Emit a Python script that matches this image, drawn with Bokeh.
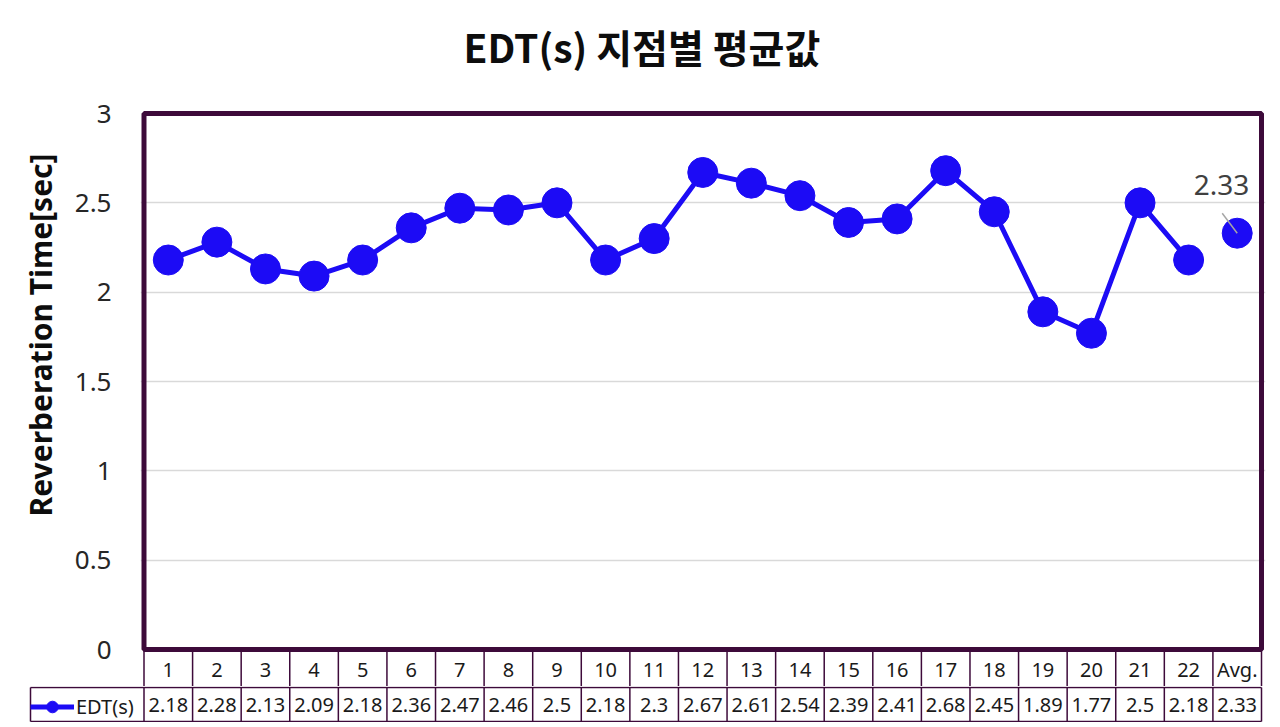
from bokeh.plotting import figure
from bokeh.models import (Range1d, FixedTicker, NumeralTickFormatter, ColumnDataSource,
                          Legend, LegendItem, Title)
from bokeh.embed import file_html
from bokeh.resources import INLINE
from bokeh.core.properties import value

# ---------------- data ----------------
title_text = "EDT(s) 지점별 평균값"
y_title = "Reverberation Time[sec]"
series_name = "EDT(s)"
categories = ["1", "2", "3", "4", "5", "6", "7", "8", "9", "10", "11",
              "12", "13", "14", "15", "16", "17", "18", "19", "20", "21", "22", "Avg."]
edt_values = [2.18, 2.28, 2.13, 2.09, 2.18, 2.36, 2.47, 2.46, 2.5, 2.18, 2.3,
              2.67, 2.61, 2.54, 2.39, 2.41, 2.68, 2.45, 1.89, 1.77, 2.5, 2.18, 2.33]
y_ticks = [0, 0.5, 1, 1.5, 2, 2.5, 3]

# ---------------- style / layout (pixels) ----------------
BLUE = "#1c0bf5"
BORDER = "#3d0a3a"
GRID = "#d9d9d9"
TEXT = "#1a1a1a"

W = 1276
FRAME_L, FRAME_R, FRAME_T = 140, 1265, 80
AREA_L, AREA_R, AREA_T, AREA_B = 143.5, 1261, 113, 649   # plot-area box (thick border)
ROW1_B = 686        # bottom of category row (end of main figure)
LEG_L = 30
A_H = ROW1_B
B_H = 36

n = len(categories)
n_pts = n - 1
xs = list(range(1, n + 1))
U = (AREA_R - AREA_L) / n
Uy = (AREA_B - AREA_T) / (y_ticks[-1] - y_ticks[0])

def px_to_x(px):
    return 0.5 + (px - AREA_L) / U

def px_to_y(py):
    return y_ticks[0] - (py - AREA_B) / Uy

# ---------------- main chart (plot area + category row) ----------------
p = figure(width=W, height=A_H, x_range=Range1d(px_to_x(FRAME_L), px_to_x(FRAME_R)),
           y_range=Range1d(px_to_y(ROW1_B), px_to_y(FRAME_T)),
           x_axis_location=None, toolbar_location=None, output_backend="svg",
           min_border_left=FRAME_L, min_border_right=W - FRAME_R,
           min_border_top=FRAME_T, min_border_bottom=0,
           title=title_text)
p.background_fill_color = "white"
p.border_fill_color = "white"
p.outline_line_color = None

p.title.align = "left"
p.title.offset = 323
p.title.text_font = "Noto Sans CJK KR"
p.title.text_font_size = "39px"
p.title.text_font_style = "bold"
p.title.text_color = "#0d0d0d"
p.title.standoff = 14

ay = p.yaxis[0]
ay.ticker = FixedTicker(ticks=y_ticks)
ay.formatter = NumeralTickFormatter(format="0.[0]")
ay.axis_line_color = None
ay.major_tick_line_color = None
ay.minor_tick_line_color = None
ay.major_tick_out = 0
ay.major_tick_in = 0
ay.major_label_standoff = 29
ay.major_label_text_font = "Noto Sans"
ay.major_label_text_font_size = "26px"
ay.major_label_text_color = "#262626"

p.add_layout(Title(text=y_title, align="right", offset=73, standoff=22,
                   text_font="Noto Sans", text_font_size="30px", text_font_style="bold",
                   text_color="#0d0d0d"), "left")

p.ygrid.ticker = FixedTicker(ticks=y_ticks[1:-1])
p.ygrid.grid_line_color = GRID
p.ygrid.grid_line_width = 1.5
p.xgrid.visible = False

# plot-area border
p.quad(left=[0.5], right=[n + 0.5], bottom=[y_ticks[0]], top=[y_ticks[-1]],
       fill_color=None, line_color=BORDER, line_width=5)

# category row of the data table
bounds = [i + 0.5 for i in range(0, n + 1)]
p.segment(x0=bounds, y0=[y_ticks[0]] * len(bounds), x1=bounds,
          y1=[px_to_y(ROW1_B)] * len(bounds), line_color=BORDER, line_width=1.5)
p.text(x=xs, y=[px_to_y((AREA_B + 3 + ROW1_B) / 2)] * n, text=categories,
       text_align="center", text_baseline="middle",
       text_font=value("Noto Sans"), text_font_size="20px", text_color=TEXT)

pts = ColumnDataSource(dict(x=xs[:n_pts], y=edt_values[:n_pts]))
allsrc = ColumnDataSource(dict(x=xs, y=edt_values))
p.line("x", "y", source=pts, line_color=BLUE, line_width=5)
p.scatter("x", "y", source=allsrc, size=30, fill_color=BLUE, line_color=BLUE)

avg_x, avg_y = xs[-1], edt_values[-1]
p.segment(x0=[avg_x - 15 / U], y0=[avg_y + 20 / Uy], x1=[avg_x], y1=[avg_y],
          line_color="#a6a6a6", line_width=1.5)
p.text(x=[avg_x], y=[avg_y], text=[f"{avg_y:g}"], x_offset=12, y_offset=-48,
       text_align="right", text_baseline="alphabetic",
       text_font=value("Noto Sans"), text_font_size="28px", text_color="#404040")

# ---------------- values row + legend key ----------------
t = figure(width=W, height=B_H, x_range=Range1d(px_to_x(0), px_to_x(W)),
           y_range=Range1d(-1 / 34, 1 + 1 / 34),
           x_axis_location=None, y_axis_location=None, toolbar_location=None,
           output_backend="svg", min_border_left=0, min_border_right=0,
           min_border_top=0, min_border_bottom=0)
t.outline_line_color = None
t.background_fill_color = "white"
t.border_fill_color = "white"
t.grid.visible = False

x_leg = px_to_x(LEG_L)
vb = [x_leg] + bounds
t.segment(x0=vb, y0=[0] * len(vb), x1=vb, y1=[1] * len(vb),
          line_color=BORDER, line_width=1.5)
t.segment(x0=[x_leg, x_leg], y0=[0, 1], x1=[n + 0.5, n + 0.5], y1=[0, 1],
          line_color=BORDER, line_width=1.5)
t.text(x=xs, y=[0.5] * n, text=[f"{v:g}" for v in edt_values], text_align="center",
       text_baseline="middle", text_font=value("Noto Sans"), text_font_size="20px",
       text_color=TEXT)

# legend proxies: the series itself on a hidden range (off-frame)
t.extra_y_ranges = {"proxy": Range1d(10, 11)}
leg_line = t.line(x=xs[:n_pts], y=edt_values[:n_pts], y_range_name="proxy",
                  line_color=BLUE, line_width=5)
leg_pt = t.scatter(x=xs, y=edt_values, y_range_name="proxy",
                   fill_color=BLUE, line_color=BLUE)
legend = Legend(items=[LegendItem(label=series_name, renderers=[leg_line, leg_pt])],
                location=(LEG_L, 1), orientation="horizontal", padding=3, margin=0,
                spacing=0, glyph_width=44, glyph_height=29, label_standoff=2,
                label_text_font="Noto Sans", label_text_font_size="20px",
                label_text_color=TEXT, border_line_color=None,
                background_fill_alpha=0)
t.add_layout(legend, "center")

open("out.html", "w").write(file_html([p, t], INLINE))
